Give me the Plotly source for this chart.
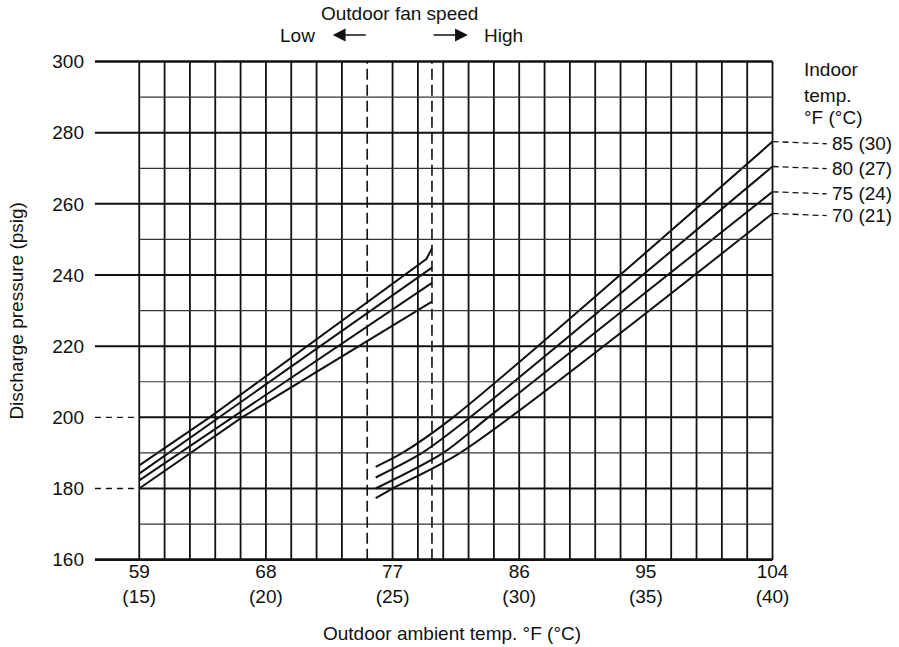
import plotly.graph_objects as go

# ---------------- data ----------------
indoor_f = [85, 80, 75, 70]
indoor_c = [30, 27, 24, 21]

# low outdoor-fan-speed segment (outdoor temp °F, discharge psig)
low_temp_85 = [59.0, 64.0, 79.4, 79.8]
low_press_85 = [186.5, 200.0, 244.5, 247.5]
low_temp_80 = [59.0, 79.8]
low_press_80 = [184.2, 242.1]
low_temp_75 = [59.0, 79.8]
low_press_75 = [182.3, 237.8]
low_temp_70 = [59.0, 66.3, 79.8]
low_press_70 = [180.0, 200.0, 232.5]

# high outdoor-fan-speed segment
high_temp_85 = [75.8, 77.7, 81.3, 104.0]
high_press_85 = [186.1, 190.0, 200.0, 277.5]
high_temp_80 = [75.8, 79.1, 82.5, 104.0]
high_press_80 = [183.1, 190.0, 200.0, 270.5]
high_temp_75 = [75.8, 80.6, 83.8, 104.0]
high_press_75 = [180.0, 190.0, 200.0, 263.4]
high_temp_70 = [75.8, 77.0, 81.8, 104.0]
high_press_70 = [177.3, 180.0, 190.0, 257.3]

# fan speed switch limits (°F)
fan_low_limit_f = 75.2
fan_high_limit_f = 79.8

# axes
tick_f = [59, 68, 77, 86, 95, 104]
tick_c = [15, 20, 25, 30, 35, 40]
grid_c = list(range(15, 41))          # 1 °C vertical grid
press_ticks = [160, 180, 200, 220, 240, 260, 280, 300]
press_grid = list(range(160, 301, 10))
dashed_lead_press = [180, 200]
legend_title_lines = ["Indoor", "temp.", "°F (°C)"]
legend_title_press = [297.7, 290.6, 284.2]

FONT = "Liberation Sans, Arial, Helvetica, sans-serif"
FS = 19
BLACK = "#111111"

W, H = 899, 647

X_RANGE = [55.5, 110.5]
Y_RANGE = [158.5, 301.0]
X_LEFT = 55.85      # where the main horizontal lines begin
X_MIN, X_MAX = tick_f[0], tick_f[-1]

fig = go.Figure()

shapes = []
# vertical grid
for c in grid_c:
    f = c * 9 / 5 + 32
    if abs(f - fan_low_limit_f) < 0.2:
        continue
    shapes.append(dict(type="line", xref="x", yref="y", x0=f, x1=f,
                       y0=press_grid[0], y1=press_grid[-1],
                       line=dict(color=BLACK, width=1.8)))
# horizontal grid
for p in press_grid:
    major = p % 20 == 0
    edge = p in (press_grid[0], press_grid[-1])
    w = 2.6 if edge else (2.0 if major else 1.2)
    col = BLACK if major else "#333333"
    shapes.append(dict(type="line", xref="x", yref="y", x0=X_MIN, x1=X_MAX,
                       y0=p, y1=p, line=dict(color=col, width=w)))
    if major:
        shapes.append(dict(type="line", xref="x", yref="y", x0=X_LEFT, x1=X_MIN,
                           y0=p, y1=p,
                           line=dict(color=BLACK, width=1.4 if p in dashed_lead_press else w,
                                     dash="6px,5px" if p in dashed_lead_press else "solid")))
# fan-speed switch dashed lines
for f in (fan_low_limit_f, fan_high_limit_f):
    shapes.append(dict(type="line", xref="x", yref="y", x0=f, x1=f,
                       y0=press_grid[0], y1=press_grid[-1],
                       line=dict(color=BLACK, width=1.6, dash="11px,5px")))

# curves
curves = [
    (low_temp_85, low_press_85, "linear"), (low_temp_80, low_press_80, "linear"),
    (low_temp_75, low_press_75, "linear"), (low_temp_70, low_press_70, "linear"),
    (high_temp_85, high_press_85, "spline"), (high_temp_80, high_press_80, "spline"),
    (high_temp_75, high_press_75, "spline"), (high_temp_70, high_press_70, "spline"),
]
for xs, ys, shape in curves:
    fig.add_trace(go.Scatter(x=xs, y=ys, mode="lines",
                             line=dict(color=BLACK, width=2, shape=shape, smoothing=0.8),
                             showlegend=False, hoverinfo="skip"))

# leaders + indoor temp labels
label_x = 108.1
high_ends = [high_press_85[-1], high_press_80[-1], high_press_75[-1], high_press_70[-1]]
annotations = []
for f, c, p in zip(indoor_f, indoor_c, high_ends):
    shapes.append(dict(type="line", xref="x", yref="y", x0=X_MAX, x1=label_x - 0.25,
                       y0=p, y1=p - 0.6, line=dict(color=BLACK, width=1.3, dash="6px,4px")))
    annotations.append(dict(x=label_x, y=p - 0.6, xref="x", yref="y", text=f"{f} ({c})",
                            showarrow=False, xanchor="left", yanchor="middle",
                            font=dict(family=FONT, size=FS, color=BLACK)))

for txt, p in zip(legend_title_lines, legend_title_press):
    annotations.append(dict(x=106.1, y=p, xref="x", yref="y", text=txt, showarrow=False,
                            xanchor="left", yanchor="middle",
                            font=dict(family=FONT, size=FS, color=BLACK)))

# top: fan speed
mid = (fan_low_limit_f + fan_high_limit_f) / 2
annotations.append(dict(x=mid, y=1, xref="x", yref="paper", yshift=45,
                        text="Outdoor fan speed", showarrow=False,
                        xanchor="center", yanchor="middle",
                        font=dict(family=FONT, size=FS, color=BLACK)))
annotations.append(dict(x=70.25, y=1, xref="x", yref="paper", yshift=23,
                        text="Low", showarrow=False, xanchor="center", yanchor="middle",
                        font=dict(family=FONT, size=FS, color=BLACK)))
annotations.append(dict(x=84.9, y=1, xref="x", yref="paper", yshift=23,
                        text="High", showarrow=False, xanchor="center", yanchor="middle",
                        font=dict(family=FONT, size=FS, color=BLACK)))
annotations.append(dict(x=fan_low_limit_f - 2.45, y=1, xref="x", yref="paper", yshift=23,
                        ax=fan_low_limit_f, axref="x", ay=0, ayref="pixel",
                        text="", showarrow=True, arrowhead=2, arrowsize=1.6,
                        arrowwidth=1.6, arrowcolor=BLACK))
annotations.append(dict(x=fan_high_limit_f + 2.55, y=1, xref="x", yref="paper", yshift=23,
                        ax=fan_high_limit_f, axref="x", ay=0, ayref="pixel",
                        text="", showarrow=True, arrowhead=2, arrowsize=1.6,
                        arrowwidth=1.6, arrowcolor=BLACK))

# axis titles
annotations.append(dict(x=(X_MIN + X_MAX) / 2 - 0.3, y=0, xref="x", yref="paper", yshift=-68,
                        text="Outdoor ambient temp. °F (°C)", showarrow=False,
                        xanchor="center", yanchor="middle",
                        font=dict(family=FONT, size=FS, color=BLACK)))
annotations.append(dict(x=0, y=230, xref="paper", yref="y", xshift=-73,
                        text="Discharge pressure (psig)", showarrow=False, textangle=-90,
                        xanchor="center", yanchor="middle",
                        font=dict(family=FONT, size=FS, color=BLACK)))

fig.update_layout(
    width=W, height=H,
    margin=dict(l=90, r=35, t=58, b=82, pad=0),
    paper_bgcolor="white", plot_bgcolor="white",
    shapes=shapes, annotations=annotations,
    showlegend=False,
    font=dict(family=FONT, size=FS, color=BLACK),
    xaxis=dict(range=X_RANGE, tickvals=tick_f,
               ticktext=[f"{f}<br>({c})" for f, c in zip(tick_f, tick_c)],
               showgrid=False, zeroline=False, showline=False, ticks="",
               tickfont=dict(family=FONT, size=FS, color=BLACK), automargin=False,
               ticklabelstandoff=-7),
    yaxis=dict(range=Y_RANGE, tickvals=press_ticks,
               ticktext=[str(p) for p in press_ticks],
               showgrid=False, zeroline=False, showline=False, ticks="",
               tickfont=dict(family=FONT, size=FS, color=BLACK), automargin=False,
               ticklabelstandoff=5),
)

# remove the browser's default 8px body margin so the figure fills the window
fig.write_html("out.html", config={"displayModeBar": False},
               post_script="document.body.style.margin='0px';")
